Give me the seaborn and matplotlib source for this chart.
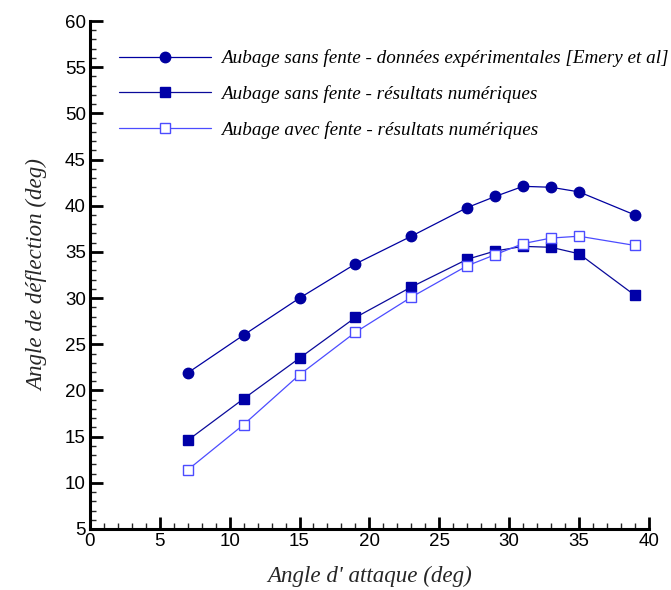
import matplotlib
matplotlib.use("Agg")
import matplotlib.pyplot as plt
from matplotlib.ticker import MultipleLocator
import seaborn as sb
import pandas as pd

# angle d'attaque (deg)
angles = [7, 11, 15, 19, 23, 27, 29, 31, 33, 35, 39]

# angle de deflection (deg)
exp_sans_fente = [21.9, 26.0, 30.0, 33.7, 36.7, 39.8, 41.0, 42.1, 42.0, 41.5, 39.0]
num_sans_fente = [14.6, 19.1, 23.5, 27.9, 31.2, 34.2, 35.1, 35.6, 35.5, 34.8, 30.3]
num_avec_fente = [11.4, 16.3, 21.7, 26.3, 30.1, 33.5, 34.7, 35.9, 36.5, 36.7, 35.7]

labels = [
    "Aubage sans fente - données expérimentales [Emery et al]",
    "Aubage sans fente - résultats numériques",
    "Aubage avec fente - résultats numériques",
]


def build_frame():
    frames = []
    for name, vals in zip(labels, [exp_sans_fente, num_sans_fente, num_avec_fente]):
        frames.append(pd.DataFrame({"x": angles, "y": vals, "serie": name}))
    return pd.concat(frames, ignore_index=True)


def plot_deflection():
    sb.set_style("ticks")
    plt.rcParams["font.family"] = ["Liberation Sans", "DejaVu Sans"]

    df = build_frame()
    fig = plt.figure(figsize=(6.71, 5.90), dpi=100)
    ax = fig.add_axes([0.134, 0.1034, 0.833, 0.8610])

    styles = [
        dict(color="#0000a0", marker="o", markersize=7.5, mfc="#0000a0", mec="#0000a0"),
        dict(color="#0a0a9a", marker="s", markersize=6.5, mfc="#0000a8", mec="#0000a8"),
        dict(color="#4c4cff", marker="s", markersize=6.5, mfc="white", mec="#4c4cff"),
    ]
    for name, st in zip(labels, styles):
        sub = df[df["serie"] == name]
        sb.lineplot(data=sub, x="x", y="y", ax=ax, label=name, linewidth=0.9,
                    markeredgewidth=1.0, **st)

    ax.set_xlim(0, 40)
    ax.set_ylim(5, 60)
    ax.xaxis.set_major_locator(MultipleLocator(5))
    ax.xaxis.set_minor_locator(MultipleLocator(1))
    ax.yaxis.set_major_locator(MultipleLocator(5))
    ax.yaxis.set_minor_locator(MultipleLocator(1))
    ax.tick_params(which="major", direction="in", length=9, width=2, labelsize=13.5,
                   pad=3, colors="black")
    ax.tick_params(which="minor", direction="in", length=4.5, width=1)
    for side in ["top", "right"]:
        ax.spines[side].set_visible(False)
    for side in ["left", "bottom"]:
        ax.spines[side].set_linewidth(2.2)
        ax.spines[side].set_color("black")

    serif = dict(family="Liberation Serif", style="italic", fontsize=16.6)
    ax.set_xlabel("Angle d' attaque (deg)", labelpad=11, **serif)
    ax.set_ylabel("Angle de déflection (deg)", labelpad=12, **serif)

    leg = ax.legend(loc="upper left", bbox_to_anchor=(0.022, 0.978), frameon=False,
                    handlelength=4.8, handletextpad=0.52, labelspacing=0.93,
                    prop=dict(family="Liberation Serif", style="italic", size=13.8))
    for t in leg.get_texts():
        t.set_color("black")

    fig.savefig("out.png", dpi=100)


def main():
    plot_deflection()


if __name__ == "__main__":
    main()
